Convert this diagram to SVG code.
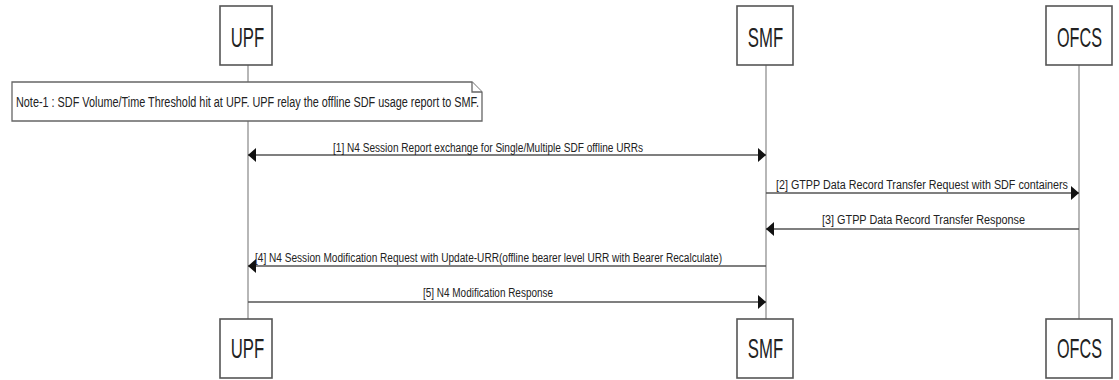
<svg xmlns="http://www.w3.org/2000/svg" width="1119" height="380" viewBox="0 0 1119 380">
  <style>
    .box { fill: #ffffff; stroke: #555555; stroke-width: 1.6; }
    .lbl { font-family: "Liberation Sans", Arial, sans-serif; font-size: 27px; fill: #222222; text-anchor: middle; }
    .life { stroke: #999999; stroke-width: 1.4; fill: none; }
    .msg { stroke: #555555; stroke-width: 1.4; fill: none; }
    .mtxt { font-family: "Liberation Sans", Arial, sans-serif; font-size: 12px; fill: #222222; }
    .note { fill: #ffffff; stroke: #666666; stroke-width: 1.3; }
    .ntxt { font-family: "Liberation Sans", Arial, sans-serif; font-size: 14px; fill: #222222; }
  </style>
  <defs>
    <marker id="ah" viewBox="0 0 8 14" refX="8" refY="7" markerWidth="8" markerHeight="14" markerUnits="userSpaceOnUse" orient="auto-start-reverse">
      <path d="M0,0 L8,7 L0,14 Z" fill="#111111"/>
    </marker>
  </defs>
  <rect width="1119" height="380" fill="#ffffff"/>

  <g id="lifelines">
    <line class="life" x1="248" y1="65" x2="248" y2="319"/>
    <line class="life" x1="766" y1="65" x2="766" y2="319"/>
    <line class="life" x1="1079" y1="65" x2="1079" y2="319"/>
  </g>

  <g id="node-upf-top">
    <rect class="box" x="220" y="6" width="52" height="59"/>
    <text class="lbl" transform="translate(247.5,47) scale(0.62,1)" x="0" y="0">UPF</text>
  </g>
  <g id="node-smf-top">
    <rect class="box" x="737" y="6" width="56" height="59"/>
    <text class="lbl" transform="translate(765.5,47) scale(0.62,1)" x="0" y="0">SMF</text>
  </g>
  <g id="node-ofcs-top">
    <rect class="box" x="1046" y="6" width="66" height="59"/>
    <text class="lbl" transform="translate(1079.5,47) scale(0.6,1)" x="0" y="0">OFCS</text>
  </g>

  <g id="node-upf-bottom">
    <rect class="box" x="220" y="319" width="52" height="59"/>
    <text class="lbl" transform="translate(247.5,358) scale(0.62,1)" x="0" y="0">UPF</text>
  </g>
  <g id="node-smf-bottom">
    <rect class="box" x="737" y="319" width="56" height="59"/>
    <text class="lbl" transform="translate(765.5,358) scale(0.62,1)" x="0" y="0">SMF</text>
  </g>
  <g id="node-ofcs-bottom">
    <rect class="box" x="1046" y="319" width="66" height="59"/>
    <text class="lbl" transform="translate(1079.5,358) scale(0.6,1)" x="0" y="0">OFCS</text>
  </g>

  <g id="note-1">
    <path class="note" d="M12,82 L472,82 L482,92 L482,121 L12,121 Z"/>
    <path class="note" d="M472,82 L472,92 L482,92" fill="none"/>
    <text class="ntxt" x="16" y="107" textLength="463" lengthAdjust="spacingAndGlyphs">Note-1 : SDF Volume/Time Threshold hit at UPF. UPF relay the offline SDF usage report to SMF.</text>
  </g>

  <g id="connectors">
    <line class="msg" x1="248" y1="155" x2="766" y2="155" marker-start="url(#ah)" marker-end="url(#ah)"/>
    <text class="mtxt" x="333" y="152" textLength="310" lengthAdjust="spacingAndGlyphs">[1] N4 Session Report exchange for Single/Multiple SDF offline URRs</text>

    <line class="msg" x1="766" y1="193" x2="1079" y2="193" marker-end="url(#ah)"/>
    <text class="mtxt" x="776" y="189" textLength="292" lengthAdjust="spacingAndGlyphs">[2] GTPP Data Record Transfer Request with SDF containers</text>

    <line class="msg" x1="1079" y1="229" x2="766" y2="229" marker-end="url(#ah)"/>
    <text class="mtxt" x="822" y="224" textLength="203" lengthAdjust="spacingAndGlyphs">[3] GTPP Data Record Transfer Response</text>

    <line class="msg" x1="766" y1="266" x2="248" y2="266" marker-end="url(#ah)"/>
    <text class="mtxt" x="255" y="262" textLength="467" lengthAdjust="spacingAndGlyphs">[4] N4 Session Modification Request with Update-URR(offline bearer level URR with Bearer Recalculate)</text>

    <line class="msg" x1="248" y1="302" x2="766" y2="302" marker-end="url(#ah)"/>
    <text class="mtxt" x="423" y="297" textLength="130" lengthAdjust="spacingAndGlyphs">[5] N4 Modification Response</text>
  </g>
</svg>
